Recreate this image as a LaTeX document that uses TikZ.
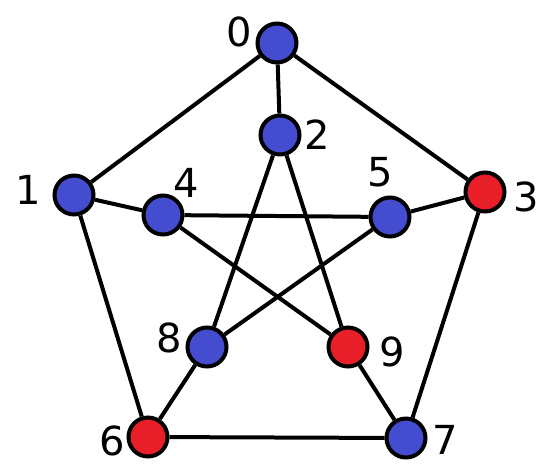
\documentclass[tikz,border=0pt]{standalone}
\usepackage{fontspec}
\setmainfont{DejaVu Sans}
\definecolor{nblue}{RGB}{68,76,208}
\definecolor{nred}{RGB}{232,30,40}
\begin{document}
\begin{tikzpicture}[x=1pt,y=-1pt,
  vtx/.style={circle,draw=black,line width=4pt,minimum size=39pt,inner sep=0pt},
  bv/.style={vtx,fill=nblue},
  rv/.style={vtx,fill=nred},
  lbl/.style={font=\fontsize{40}{40}\selectfont,inner sep=0pt},
  edge/.style={line width=4pt}]
\useasboundingbox (0,0) rectangle (545,466);
\node[bv] (n0) at (277,43) {};
\node[bv] (n1) at (74,195) {};
\node[bv] (n2) at (280,135) {};
\node[rv] (n3) at (485,192) {};
\node[bv] (n4) at (163,215) {};
\node[bv] (n5) at (390,217) {};
\node[rv] (n6) at (148,437) {};
\node[bv] (n7) at (406,438) {};
\node[bv] (n8) at (207,347) {};
\node[rv] (n9) at (348,347) {};
\node[lbl] (l0) at (239,32) {0};
\node[lbl] (l1) at (28,190) {1};
\node[lbl] (l2) at (317,135) {2};
\node[lbl] (l3) at (526,197) {3};
\node[lbl] (l4) at (186,183) {4};
\node[lbl] (l5) at (380,172) {5};
\node[lbl] (l6) at (112,441) {6};
\node[lbl] (l7) at (445,440) {7};
\node[lbl] (l8) at (169,338) {8};
\node[lbl] (l9) at (392,352) {9};
\draw[edge] (n0) -- (n2);
\draw[edge] (n0) -- (n1);
\draw[edge] (n0) -- (n3);
\draw[edge] (n1) -- (n4);
\draw[edge] (n1) -- (n6);
\draw[edge] (n3) -- (n5);
\draw[edge] (n3) -- (n7);
\draw[edge] (n6) -- (n7);
\draw[edge] (n2) -- (n8);
\draw[edge] (n2) -- (n9);
\draw[edge] (n4) -- (n5);
\draw[edge] (n4) -- (n9);
\draw[edge] (n5) -- (n8);
\draw[edge] (n8) -- (n6);
\draw[edge] (n9) -- (n7);
\end{tikzpicture}
\end{document}
